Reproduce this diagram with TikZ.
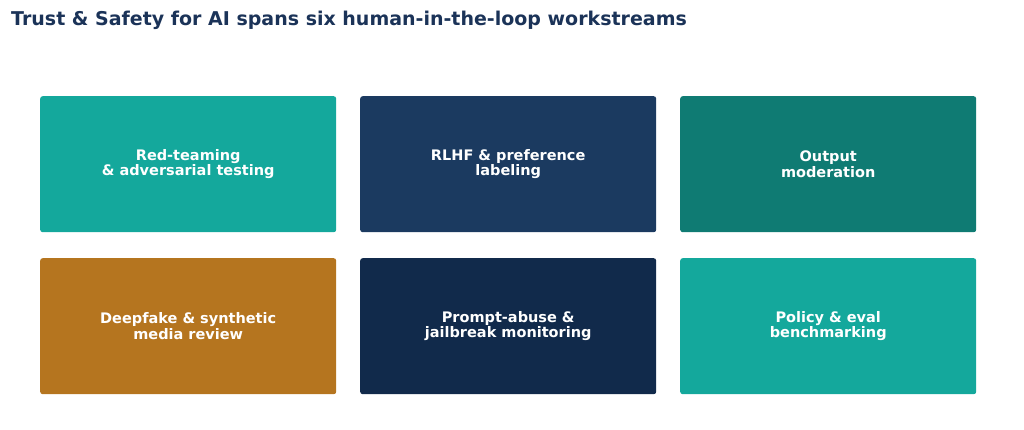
\documentclass[tikz,border=0pt]{standalone}
\usepackage{fontspec}
\setmainfont{DejaVu Sans}
\definecolor{cteal}{HTML}{14A89C}
\definecolor{cnavy}{HTML}{1B3A60}
\definecolor{cdteal}{HTML}{0F7B73}
\definecolor{corange}{HTML}{B5751F}
\definecolor{cdnavy}{HTML}{112A4B}
\definecolor{ctitle}{HTML}{1B3358}
\begin{document}
\begin{tikzpicture}[x=1pt,y=-1pt,
  card/.style={rounded corners=2.5pt,minimum width=296pt,minimum height=136pt,anchor=north west,
    text=white,align=center,font=\bfseries\fontsize{14.5}{15.5}\selectfont,inner sep=0pt}]
\useasboundingbox (0,0) rectangle (1024,430);
\node[anchor=west,text=ctitle,font=\bfseries\fontsize{19}{22}\selectfont,inner sep=0pt] (title) at (11,20) {Trust \& Safety for AI spans six human-in-the-loop workstreams};
\node[card,fill=cteal] (a) at (40,96) {Red-teaming\\\& adversarial testing};
\node[card,fill=cnavy] (b) at (360,96) {RLHF \& preference\\labeling};
\node[card,fill=cdteal] (c) at (680,96) {Output\\moderation};
\node[card,fill=corange] (d) at (40,258) {Deepfake \& synthetic\\media review};
\node[card,fill=cdnavy] (e) at (360,258) {Prompt-abuse \&\\jailbreak monitoring};
\node[card,fill=cteal] (f) at (680,258) {Policy \& eval\\benchmarking};
\end{tikzpicture}
\end{document}
